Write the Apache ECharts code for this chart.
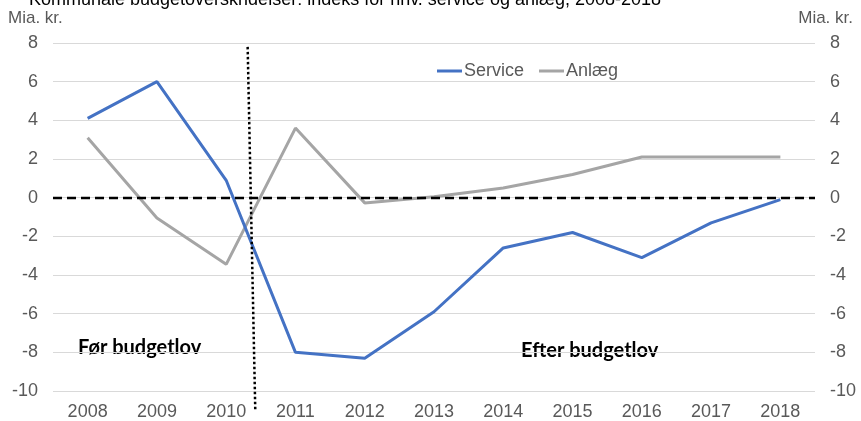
<!DOCTYPE html>
<html><head><meta charset="utf-8">
<script src="https://cdn.jsdelivr.net/npm/echarts@6/dist/echarts.min.js"></script>
<style>html,body{margin:0;padding:0;background:#fff}#c{width:861px;height:421px}</style>
</head><body><div id="c"></div>
<script>
const categories = ['2008','2009','2010','2011','2012','2013','2014','2015','2016','2017','2018'];
const service = [4.1, 6.0, 0.9, -8.0, -8.3, -5.9, -2.6, -1.8, -3.1, -1.3, -0.1];
const anlaeg = [3.1, -1.05, -3.45, 3.6, -0.27, 0.05, 0.5, 1.2, 2.1, 2.1, 2.1];
const divider = [[2.31, 7.8], [2.42, -11.0]];
const yMin = -10, yMax = 8, yStep = 2;

const chart = echarts.init(document.getElementById('c'), null, {renderer: 'canvas'});
const font = 'Liberation Sans, Arial, sans-serif';
const axisY = (pos) => ({
  type: 'value', position: pos, min: yMin, max: yMax, interval: yStep,
  axisLine: {show: false}, axisTick: {show: false},
  splitLine: {show: pos === 'left', lineStyle: {color: '#d9d9d9', width: 1}},
  axisLabel: {color: '#595959', fontSize: 18, fontFamily: font, margin: 15}
});
chart.setOption({
  animation: false,
  title: {text: 'Kommunale budgetoverskridelser: indeks for hhv. service og anlæg, 2008-2018',
    left: 24, top: -14, padding: 5, textStyle: {fontSize: 18, fontWeight: 'normal', color: '#000', fontFamily: font}},
  grid: {left: 53, right: 46, top: 43, bottom: 29},
  legend: {data: ['Service', 'Anlæg'], left: 437, top: 62, padding: 0, itemWidth: 25, itemHeight: 3, itemGap: 15,
    icon: 'rect', textStyle: {color: '#595959', fontSize: 18, fontFamily: font, padding: [0,0,0,-3]}},
  xAxis: [{
    type: 'category', data: categories, boundaryGap: true,
    axisLine: {show: false}, axisTick: {show: false},
    axisLabel: {color: '#595959', fontSize: 18, fontFamily: font, margin: 12}
  }, {
    type: 'value', min: -0.5, max: 10.5, show: false
  }],
  yAxis: [axisY('left'), axisY('right')],
  graphic: [
    {type: 'text', left: 8, top: 10, style: {text: 'Mia. kr.', fill: '#595959', font: '17px ' + font}},
    {type: 'text', right: 8, top: 10, style: {text: 'Mia. kr.', fill: '#595959', font: '17px ' + font}},
    {type: 'text', left: 78, top: 338, style: {text: 'Før budgetlov', fill: '#000', font: 'bold 20px Lato, Open Sans, sans-serif'}},
    {type: 'text', left: 521, top: 341, style: {text: 'Efter budgetlov', fill: '#000', font: 'bold 20px Lato, Open Sans, sans-serif'}}
  ],
  series: [
    {name: 'Service', type: 'line', data: service, symbol: 'none', z: 4,
      lineStyle: {color: '#4472C4', width: 3}, itemStyle: {color: '#4472C4'},
      markLine: {silent: true, symbol: 'none', label: {show: false},
        lineStyle: {color: '#000', type: [9, 5], width: 2.4},
        data: [{yAxis: 0}]}},
    {name: 'Anlæg', type: 'line', data: anlaeg, symbol: 'none', z: 3,
      lineStyle: {color: '#A5A5A5', width: 3}, itemStyle: {color: '#A5A5A5'}},
    {name: 'divider', type: 'line', xAxisIndex: 1, data: divider, symbol: 'none', clip: false, z: 5,
      lineStyle: {color: '#000', type: [2.5, 2.5], width: 2.5}, silent: true}
  ]
});
</script></body></html>
